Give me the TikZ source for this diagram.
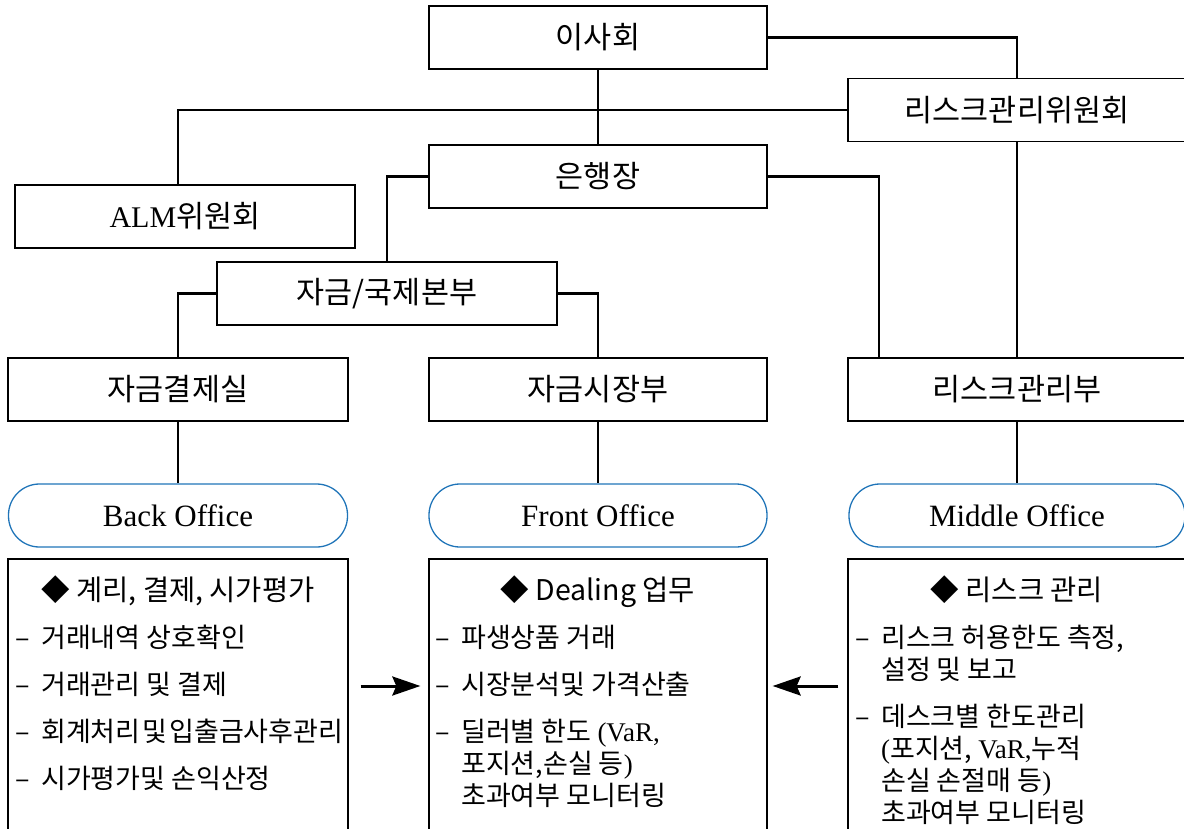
\documentclass[tikz,border=0pt]{standalone}
\usepackage{fontspec}
\setmainfont{Liberation Serif}
\newfontfamily\krfont{Noto Sans CJK KR}
\usepackage{tikz}
\usetikzlibrary{positioning, arrows, arrows.meta, calc}
\definecolor{pillblue}{HTML}{1F74B8}
\newcommand{\engtxt}[1]{{\rmfamily #1}}

\begin{document}
\begin{tikzpicture}[x=1pt,y=-1pt,
  orgbox/.style={draw, line width=1.3pt, minimum width=338pt, minimum height=63pt, inner sep=0pt, font=\krfont\fontsize{30.5}{36}\selectfont},
  officepill/.style={draw=pillblue, line width=1.3pt, rounded corners=31pt, minimum width=338pt, minimum height=63pt, inner sep=0pt, font=\rmfamily\fontsize{31}{36}\selectfont},
  taskbox/.style={draw, line width=1.3pt, minimum width=338pt, minimum height=301pt, inner sep=0pt},
  taskhead/.style={anchor=base, inner sep=0pt, font=\krfont\fontsize{28.5}{32}\selectfont},
  tasklist/.style={anchor=base west, inner sep=0pt, font=\krfont\fontsize{27}{32}\selectfont},
  link/.style={line width=2.5pt},
  flowarrow/.style={line width=3pt, -{Stealth[length=28pt,width=19pt,inset=4pt]}}]
\useasboundingbox (0,0) rectangle (1184,829);

% organisation
\node[orgbox] (board) at (598,37.5) {이사회};
\node[orgbox] (riskcom) at (1017,110) {리스크관리위원회};
\node[orgbox] (ceo) at (598,176.5) {은행장};
\node[orgbox, minimum width=340pt] (alm) at (185,216.5) {{\rmfamily\fontsize{30}{34}\selectfont ALM}위원회};
\node[orgbox, minimum width=340pt] (hq) at (387,293.5) {자금/국제본부};
\node[orgbox, minimum width=340pt] (settle) at (178,389.5) {자금결제실};
\node[orgbox] (market) at (598,389.5) {자금시장부};
\node[orgbox] (riskdep) at (1017,389.5) {리스크관리부};

\draw[link] (board.south) -- (ceo.north);
\draw[link] (board.east) -| (riskcom.north);
\draw[link] (riskcom.west) -| (alm.north -| settle.north);
\draw[link] (ceo.west) -| (hq.north);
\draw[link] (ceo.east) -| ([xshift=-138pt]riskdep.north);
\draw[link] (riskcom.south) -- (riskdep.north);
\draw[link] (hq.west) -| (settle.north);
\draw[link] (hq.east) -| (market.north);

% offices
\node[officepill, minimum width=339pt] (back) at (178,515.5) {Back Office};
\node[officepill] (front) at (598,515.5) {Front Office};
\node[officepill, minimum width=336pt] (middle) at (1017,515.5) {Middle Office};

\draw[link] (settle.south) -- (back.north);
\draw[link] (market.south) -- (front.north);
\draw[link] (riskdep.south) -- (middle.north);

% tasks
\node[taskbox, minimum width=340pt] (backbox) at (178,709.5) {};
\node[taskbox] (frontbox) at (598,709.5) {};
\node[taskbox] (middlebox) at (1017,709.5) {};

\node[taskhead] (backhead) at (178,600) {◆ 계리, 결제, 시가평가};
\node[taskhead] (fronthead) at (598,600) {◆ Dealing 업무};
\node[taskhead] (middlehead) at (1017,600) {◆ 리스크 관리};

\node[tasklist] (backlist) at (15,647) {\begin{tabular}[t]{@{}p{26pt}@{}l@{}}
– & 거래내역 상호확인 \\[15pt]
– & 거래관리 및 결제 \\[15pt]
– & 회계처리\hspace{2pt}및\hspace{2pt}입출금사후관리 \\[15pt]
– & 시가평가및 손익산정
\end{tabular}};
\node[tasklist] (frontlist) at (435,647) {\begin{tabular}[t]{@{}p{26pt}@{}l@{}}
– & 파생상품 거래 \\[15pt]
– & 시장분석및 가격산출 \\[15pt]
– & 딜러별 한도 \engtxt{(VaR,} \\
  & 포지션,손실 등\engtxt{)} \\
  & 초과여부 모니터링
\end{tabular}};
\node[tasklist] (middlelist) at (855,647) {\begin{tabular}[t]{@{}p{26pt}@{}l@{}}
– & 리스크 허용한도 측정, \\
  & 설정 및 보고 \\[15pt]
– & 데스크별 한도관리 \\
  & \engtxt{(}포지션, \engtxt{VaR,}누적 \\
  & 손실 손절매 등\engtxt{)} \\
  & 초과여부 모니터링
\end{tabular}};

\coordinate (flowrow) at (0,686);
\draw[flowarrow] ($(backbox.east |- flowrow)+(12,0)$) -- ($(frontbox.west |- flowrow)+(-8,0)$);
\draw[flowarrow] ($(middlebox.west |- flowrow)+(-9,0)$) -- ($(frontbox.east |- flowrow)+(5,0)$);
\end{tikzpicture}
\end{document}
